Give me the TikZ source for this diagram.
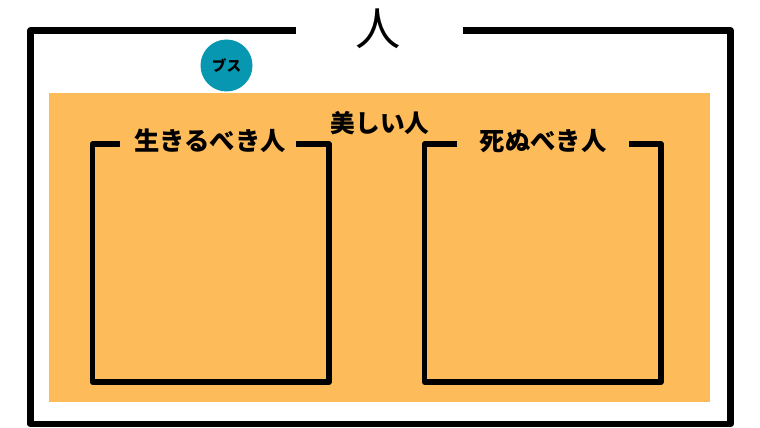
\documentclass[tikz,border=0pt]{standalone}
\usepackage{fontspec}
\newfontfamily\jp{Noto Sans CJK JP}
\definecolor{bgorange}{HTML}{FDBB5A}
\definecolor{busuteal}{HTML}{0797B1}
\tikzset{
  frameline/.style={line width=4.9pt, line join=round},
  boxline/.style={line width=4pt, line join=round},
  boxlabel/.style={font=\jp\bfseries\fontsize{19}{21}\selectfont, inner sep=0pt}
}

\begin{document}
\begin{tikzpicture}[x=0.75pt,y=-0.75pt]
 \useasboundingbox (0,0) rectangle (760,428);
 % orange area
 \fill[bgorange] (49,93) rectangle (710,402);
 % outer frame with gap for the title
 \node[font=\jp\fontsize{34}{36}\selectfont, inner sep=0pt] (hito) at (378,29) {人};
 \draw[frameline] (296,30.5) -| (30.5,424) -| (730.5,30.5) -- (463,30.5);
 \node[font=\jp\bfseries\fontsize{18.5}{20}\selectfont, inner sep=0pt] (utsukushii) at (380,123) {美しい人};
 % the two inner boxes
 \foreach \xl/\xr/\ga/\gb/\tx/\lab/\nm in {92.5/329/120/296/210/生きるべき人/ikiru, 424.5/661/457/629/543/死ぬべき人/shinu}
 {
   \draw[boxline] (\ga,144) -| (\xl,382) -| (\xr,144) -- (\gb,144);
   \node[boxlabel] (\nm) at (\tx,141) {\lab};
 }
 % ブス
 \node[circle, fill=busuteal, minimum size=39pt, inner sep=0pt,
       font=\jp\bfseries\fontsize{11}{12}\selectfont] (busu) at (226.5,65.5) {ブス};
\end{tikzpicture}
\end{document}
